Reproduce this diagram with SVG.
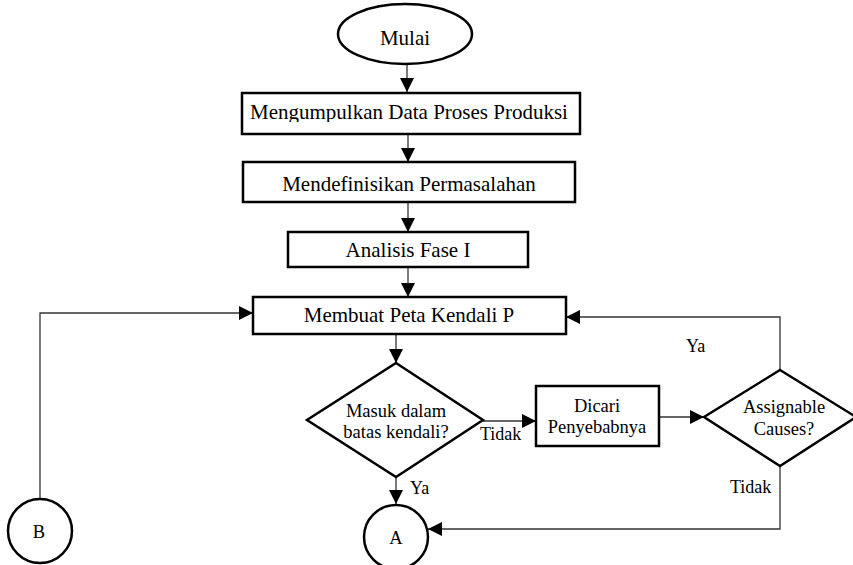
<svg xmlns="http://www.w3.org/2000/svg" width="853" height="565" viewBox="0 0 853 565">
<style>
.shape{fill:#fff;stroke:#000;stroke-width:2.5}
.conn{fill:none;stroke:#333;stroke-width:1.3}
.t{font-family:"Liberation Serif","Times New Roman",serif;fill:#000;text-anchor:middle}
.big{font-size:21px}
.sm{font-size:18.5px}
.lbl{font-family:"Liberation Serif","Times New Roman",serif;fill:#000;font-size:18px}
</style>
<defs>
<marker id="ah" markerUnits="userSpaceOnUse" markerWidth="14" markerHeight="14" viewBox="0 0 14 14" refX="14" refY="7" orient="auto">
<path d="M0,0 L14,7 L0,14 Z" fill="#000"/>
</marker>
<clipPath id="clipA"><rect x="240" y="90" width="345" height="32"/></clipPath>
</defs>
<rect width="853" height="565" fill="#fff"/>
<g id="connectors">
<line class="conn" x1="407" y1="64" x2="407" y2="92" marker-end="url(#ah)"/>
<line class="conn" x1="408" y1="134" x2="408" y2="162" marker-end="url(#ah)"/>
<line class="conn" x1="408" y1="202" x2="408" y2="232" marker-end="url(#ah)"/>
<line class="conn" x1="408" y1="267" x2="408" y2="297" marker-end="url(#ah)"/>
<line class="conn" x1="396" y1="334" x2="396" y2="363" marker-end="url(#ah)"/>
<line class="conn" x1="483" y1="421" x2="536" y2="421" marker-end="url(#ah)"/>
<line class="conn" x1="659" y1="417" x2="704" y2="417" marker-end="url(#ah)"/>
<polyline class="conn" points="780,370 780,317 566,317" marker-end="url(#ah)"/>
<polyline class="conn" points="780,466 780,529 428,529" marker-end="url(#ah)"/>
<line class="conn" x1="396" y1="477" x2="396" y2="504" marker-end="url(#ah)"/>
<polyline class="conn" points="40,499 40,313 253,313" marker-end="url(#ah)"/>
<text class="lbl" x="480" y="440">Tidak</text>
<text class="lbl" x="410" y="494">Ya</text>
<text class="lbl" x="686" y="352">Ya</text>
<text class="lbl" x="730" y="493">Tidak</text>
</g>
<g id="mulai">
<ellipse class="shape" cx="405" cy="34" rx="67" ry="30"/>
<text class="t big" x="405" y="45">Mulai</text>
</g>
<g id="kumpul">
<rect class="shape" x="242" y="93" width="338" height="41"/>
<text class="t big" x="409" y="119" clip-path="url(#clipA)">Mengumpulkan Data Proses Produksi</text>
</g>
<g id="definisi">
<rect class="shape" x="243" y="162" width="332" height="40"/>
<text class="t big" x="409" y="191">Mendefinisikan Permasalahan</text>
</g>
<g id="analisis">
<rect class="shape" x="288" y="232" width="240" height="35"/>
<text class="t big" x="408" y="257">Analisis Fase I</text>
</g>
<g id="peta">
<rect class="shape" x="253" y="297" width="313" height="37"/>
<text class="t big" x="409" y="322">Membuat Peta Kendali P</text>
</g>
<g id="cek">
<polygon class="shape" points="396,363 483,420 396,477 307,420"/>
<text class="t sm" x="396" y="417">Masuk dalam</text>
<text class="t sm" x="396" y="438">batas kendali?</text>
</g>
<g id="dicari">
<rect class="shape" x="536" y="386" width="123" height="60"/>
<text class="t sm" x="597" y="412">Dicari</text>
<text class="t sm" x="597" y="433">Penyebabnya</text>
</g>
<g id="assignable">
<polygon class="shape" points="780,370 856,417 780,466 704,417"/>
<text class="t sm" x="784" y="413">Assignable</text>
<text class="t sm" x="784" y="435">Causes?</text>
</g>
<g id="A">
<circle class="shape" cx="396" cy="537" r="32"/>
<text class="t sm" x="396" y="544">A</text>
</g>
<g id="B">
<circle class="shape" cx="40" cy="531" r="32"/>
<text class="t sm" x="39" y="538">B</text>
</g>
</svg>
